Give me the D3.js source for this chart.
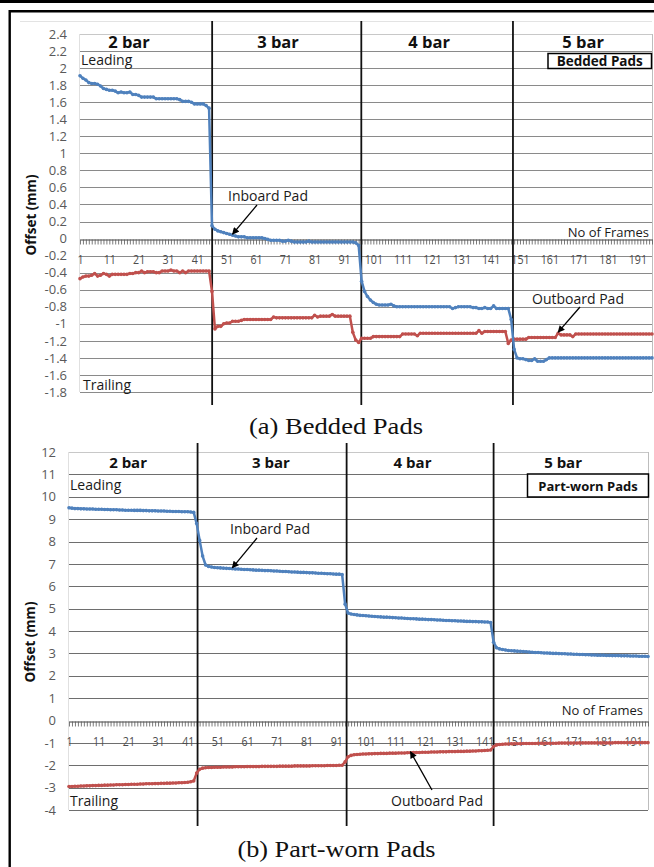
<!DOCTYPE html>
<html>
<head>
<meta charset="utf-8">
<script src="https://cdn.jsdelivr.net/npm/d3@7/dist/d3.min.js"></script>
<style>
  body { margin: 0; background: #fff; }
  svg { display: block; font-family: "Open Sans", "Liberation Sans", sans-serif; }
</style>
</head>
<body>
<svg id="fig" width="654" height="867"></svg>
<script>
// ---- data -------------------------------------------------------------
const frames = d3.range(1, 197);                 // frame numbers 1..196
const frameLabels = d3.range(1, 197, 10);        // 1, 11, ... 191
const stageNames = ["2 bar", "3 bar", "4 bar", "5 bar"];

const beddedTicks = [2.4, 2.2, 2, 1.8, 1.6, 1.4, 1.2, 1, 0.8, 0.6, 0.4, 0.2, 0,
  -0.2, -0.4, -0.6, -0.8, -1, -1.2, -1.4, -1.6, -1.8];
const wornTicks = [12, 11, 10, 9, 8, 7, 6, 5, 4, 3, 2, 1, 0, -1, -2, -3, -4];

// Bedded pads, offset (mm) per frame
const beddedInboard = [
  1.91, 1.88, 1.86, 1.83, 1.82, 1.82, 1.81, 1.79, 1.76, 1.75,
  1.74, 1.74, 1.73, 1.71, 1.72, 1.71, 1.71, 1.72, 1.69, 1.69,
  1.68, 1.66, 1.66, 1.66, 1.66, 1.66, 1.64, 1.64, 1.64, 1.64,
  1.64, 1.64, 1.64, 1.64, 1.63, 1.61, 1.61, 1.61, 1.60, 1.58,
  1.58, 1.58, 1.58, 1.56, 1.53, 0.15, 0.11, 0.09, 0.08, 0.07,
  0.06, 0.05, 0.04, 0.03, 0.02, 0.02, 0.02, 0.01, 0.01, 0.01,
  0.01, 0.01, 0.01, 0.00, -0.01, -0.02, -0.02, -0.02, -0.02, -0.03,
  -0.03, -0.02, -0.03, -0.04, -0.04, -0.04, -0.04, -0.04, -0.03, -0.04,
  -0.04, -0.04, -0.04, -0.04, -0.04, -0.04, -0.04, -0.04, -0.04, -0.04,
  -0.04, -0.04, -0.04, -0.04, -0.05, -0.08, -0.50, -0.62, -0.68, -0.72,
  -0.75, -0.77, -0.78, -0.78, -0.78, -0.78, -0.77, -0.79, -0.80, -0.80,
  -0.80, -0.80, -0.80, -0.80, -0.80, -0.80, -0.80, -0.80, -0.80, -0.80,
  -0.80, -0.80, -0.80, -0.80, -0.80, -0.80, -0.80, -0.82, -0.81, -0.80,
  -0.80, -0.80, -0.80, -0.80, -0.81, -0.81, -0.82, -0.82, -0.81, -0.82,
  -0.82, -0.79, -0.82, -0.82, -0.82, -0.82, -0.82, -0.95, -1.30, -1.40,
  -1.41, -1.41, -1.42, -1.43, -1.43, -1.41, -1.44, -1.44, -1.44, -1.42,
  -1.40, -1.40, -1.40, -1.40, -1.40, -1.40, -1.40, -1.40, -1.40, -1.40,
  -1.40, -1.40, -1.40, -1.40, -1.40, -1.40, -1.40, -1.40, -1.40, -1.40,
  -1.40, -1.40, -1.40, -1.40, -1.40, -1.40, -1.40, -1.40, -1.40, -1.40,
  -1.40, -1.40, -1.40, -1.40, -1.40, -1.40
];
const beddedOutboard = [
  -0.47, -0.45, -0.44, -0.44, -0.43, -0.41, -0.44, -0.43, -0.41, -0.42,
  -0.44, -0.42, -0.42, -0.42, -0.42, -0.42, -0.42, -0.41, -0.41, -0.40,
  -0.40, -0.38, -0.40, -0.39, -0.39, -0.39, -0.40, -0.40, -0.38, -0.38,
  -0.38, -0.37, -0.38, -0.38, -0.40, -0.38, -0.40, -0.38, -0.38, -0.38,
  -0.38, -0.38, -0.38, -0.38, -0.38, -0.62, -1.06, -1.03, -1.03, -1.00,
  -0.99, -0.99, -0.97, -0.97, -0.97, -0.96, -0.95, -0.95, -0.95, -0.95,
  -0.95, -0.95, -0.95, -0.95, -0.95, -0.95, -0.92, -0.93, -0.93, -0.93,
  -0.93, -0.93, -0.93, -0.93, -0.93, -0.93, -0.93, -0.93, -0.93, -0.93,
  -0.90, -0.92, -0.91, -0.91, -0.91, -0.91, -0.89, -0.91, -0.91, -0.91,
  -0.91, -0.91, -0.91, -1.10, -1.19, -1.22, -1.17, -1.17, -1.17, -1.17,
  -1.15, -1.15, -1.15, -1.15, -1.15, -1.15, -1.15, -1.15, -1.15, -1.15,
  -1.12, -1.12, -1.12, -1.12, -1.12, -1.14, -1.11, -1.11, -1.11, -1.11,
  -1.11, -1.11, -1.11, -1.11, -1.11, -1.11, -1.11, -1.11, -1.11, -1.11,
  -1.11, -1.11, -1.11, -1.11, -1.11, -1.11, -1.08, -1.11, -1.09, -1.09,
  -1.09, -1.09, -1.09, -1.09, -1.09, -1.09, -1.23, -1.19, -1.18, -1.18,
  -1.18, -1.18, -1.18, -1.16, -1.16, -1.16, -1.16, -1.16, -1.16, -1.16,
  -1.16, -1.16, -1.16, -1.11, -1.13, -1.13, -1.13, -1.13, -1.15, -1.12,
  -1.12, -1.12, -1.12, -1.12, -1.12, -1.12, -1.12, -1.12, -1.12, -1.12,
  -1.12, -1.12, -1.12, -1.12, -1.12, -1.12, -1.12, -1.12, -1.12, -1.12,
  -1.12, -1.12, -1.12, -1.12, -1.12, -1.12
];

// Part-worn pads, offset (mm) per frame
const wornInboard = [
  9.51, 9.49, 9.47, 9.47, 9.46, 9.46, 9.45, 9.45, 9.45, 9.44,
  9.44, 9.44, 9.43, 9.43, 9.42, 9.42, 9.42, 9.41, 9.41, 9.40,
  9.40, 9.40, 9.39, 9.39, 9.39, 9.38, 9.38, 9.37, 9.37, 9.37,
  9.36, 9.36, 9.36, 9.35, 9.35, 9.34, 9.34, 9.34, 9.33, 9.33,
  9.33, 9.32, 9.30, 8.80, 8.05, 7.35, 6.95, 6.88, 6.86, 6.84,
  6.83, 6.82, 6.81, 6.80, 6.79, 6.78, 6.77, 6.77, 6.76, 6.75,
  6.75, 6.74, 6.73, 6.72, 6.72, 6.71, 6.70, 6.70, 6.69, 6.68,
  6.68, 6.67, 6.66, 6.66, 6.65, 6.64, 6.64, 6.63, 6.62, 6.62,
  6.61, 6.60, 6.60, 6.59, 6.58, 6.58, 6.57, 6.56, 6.56, 6.55,
  6.54, 6.54, 6.52, 5.20, 4.80, 4.76, 4.74, 4.72, 4.70, 4.69,
  4.68, 4.67, 4.66, 4.65, 4.64, 4.63, 4.62, 4.62, 4.61, 4.60,
  4.59, 4.58, 4.58, 4.57, 4.56, 4.55, 4.55, 4.54, 4.53, 4.53,
  4.52, 4.51, 4.51, 4.50, 4.49, 4.49, 4.48, 4.47, 4.47, 4.46,
  4.46, 4.45, 4.45, 4.44, 4.43, 4.43, 4.42, 4.42, 4.41, 4.41,
  4.40, 4.40, 4.38, 3.50, 3.25, 3.20, 3.17, 3.15, 3.13, 3.12,
  3.11, 3.10, 3.09, 3.08, 3.07, 3.06, 3.05, 3.04, 3.04, 3.03,
  3.02, 3.02, 3.01, 3.00, 3.00, 2.99, 2.98, 2.98, 2.97, 2.97,
  2.96, 2.96, 2.95, 2.95, 2.94, 2.94, 2.93, 2.93, 2.92, 2.92,
  2.92, 2.91, 2.91, 2.90, 2.90, 2.90, 2.89, 2.89, 2.89, 2.88,
  2.88, 2.88, 2.87, 2.87, 2.87, 2.86
];
const wornOutboard = [
  -2.95, -2.95, -2.94, -2.94, -2.93, -2.93, -2.92, -2.92, -2.91, -2.91,
  -2.90, -2.90, -2.89, -2.89, -2.88, -2.88, -2.87, -2.87, -2.87, -2.86,
  -2.86, -2.85, -2.85, -2.85, -2.84, -2.84, -2.83, -2.83, -2.83, -2.82,
  -2.82, -2.81, -2.81, -2.80, -2.80, -2.79, -2.79, -2.78, -2.78, -2.77,
  -2.76, -2.74, -2.70, -2.35, -2.18, -2.13, -2.11, -2.10, -2.10, -2.09,
  -2.09, -2.09, -2.08, -2.08, -2.08, -2.08, -2.07, -2.07, -2.07, -2.07,
  -2.06, -2.06, -2.06, -2.06, -2.06, -2.05, -2.05, -2.05, -2.05, -2.05,
  -2.05, -2.04, -2.04, -2.04, -2.04, -2.04, -2.03, -2.03, -2.03, -2.03,
  -2.03, -2.03, -2.02, -2.02, -2.02, -2.02, -2.02, -2.01, -2.01, -2.01,
  -2.01, -2.00, -2.00, -1.85, -1.62, -1.56, -1.53, -1.52, -1.51, -1.50,
  -1.50, -1.49, -1.49, -1.48, -1.48, -1.47, -1.47, -1.47, -1.46, -1.46,
  -1.46, -1.45, -1.45, -1.45, -1.44, -1.44, -1.43, -1.43, -1.43, -1.42,
  -1.42, -1.42, -1.41, -1.41, -1.41, -1.40, -1.40, -1.40, -1.39, -1.39,
  -1.39, -1.38, -1.38, -1.38, -1.37, -1.37, -1.36, -1.36, -1.35, -1.35,
  -1.34, -1.33, -1.32, -1.16, -1.09, -1.07, -1.06, -1.05, -1.05, -1.04,
  -1.04, -1.04, -1.04, -1.03, -1.03, -1.03, -1.03, -1.03, -1.02, -1.02,
  -1.02, -1.02, -1.02, -1.02, -1.02, -1.01, -1.01, -1.01, -1.01, -1.01,
  -1.01, -1.01, -1.00, -1.00, -1.00, -1.00, -1.00, -1.00, -1.00, -1.00,
  -1.00, -1.00, -1.00, -1.00, -0.99, -0.99, -0.99, -0.99, -0.99, -0.99,
  -0.99, -0.99, -0.99, -0.99, -0.99, -0.99
];

// frames at which the supply pressure was stepped up
const beddedStageEdges = [46.05, 96.9, 148.6];
const wornStageEdges = [44.3, 94.5, 144];
// frame around which each pressure label is centred
const beddedStageLabelAt = [17.7, 68.5, 120, 172.5];
const wornStageLabelAt = [20.9, 69, 116.7, 167.4];

// ---- drawing ----------------------------------------------------------
const BLUE = "#4F81BD", RED = "#C0504D";
const SANS = "'Open Sans', 'Liberation Sans', sans-serif";
const SERIF = "'Liberation Serif', 'DejaVu Serif', serif";
const svg = d3.select("#fig");

const defs = svg.append("defs");
defs.append("marker")
  .attr("id", "arrowhead")
  .attr("viewBox", "0 0 10 10")
  .attr("refX", 9).attr("refY", 5)
  .attr("markerWidth", 8).attr("markerHeight", 7)
  .attr("markerUnits", "userSpaceOnUse")
  .attr("orient", "auto")
  .append("path").attr("d", "M0,0 L10,5 L0,10 z").attr("fill", "#000");

// outer figure frame
svg.append("rect").attr("x", 0).attr("y", 0).attr("width", 654).attr("height", 3).attr("fill", "#000");
svg.append("path").attr("d", "M9.7,867 V11.2 H654")
  .attr("fill", "none").attr("stroke", "#000").attr("stroke-width", 2.4);

function drawPanel(p) {
  const g = svg.append("g");
  const x = d3.scaleLinear().domain([1, frames.length]).range([p.left, p.right]);
  const y = d3.scaleLinear().domain(p.domain).range([p.bottom, p.top]);
  const fmt = v => String(+v.toFixed(1));

  // chart area top edge
  if (p.areaTop) {
    g.append("line").attr("x1", 20).attr("x2", p.right).attr("y1", p.areaTop).attr("y2", p.areaTop)
      .attr("stroke", "#e3e3e3").attr("stroke-width", 1);
  }

  // horizontal gridlines
  g.append("g").selectAll("line").data(p.ticks.filter(v => v !== 0)).join("line")
    .attr("x1", p.left).attr("x2", p.right)
    .attr("y1", d => Math.round(y(d)) + 0.5).attr("y2", d => Math.round(y(d)) + 0.5)
    .attr("stroke", (d, i) => i === 0 ? "#c8c8c8" : p.gridColor).attr("stroke-width", 1);

  // plot area edges
  g.append("line").attr("x1", p.right + 0.5).attr("x2", p.right + 0.5)
    .attr("y1", y(p.domain[1])).attr("y2", y(p.domain[0]))
    .attr("stroke", "#bdbdbd");
  g.append("line").attr("x1", p.left - 0.5).attr("x2", p.left - 0.5)
    .attr("y1", y(p.domain[1])).attr("y2", y(p.domain[0]))
    .attr("stroke", "#e0e0e0");

  // value labels
  g.append("g").selectAll("text").data(p.ticks).join("text")
    .attr("x", p.labelRight).attr("y", d => y(d)).attr("dy", "0.36em")
    .attr("text-anchor", "end").attr("font-size", p.tickFont).attr("fill", "#595959")
    .style("font-family", SANS)
    .text(fmt);

  // category axis at zero
  const axis = d3.axisBottom(x).tickValues(frames).tickSizeInner(5).tickSizeOuter(0)
    .tickPadding(p.xPad).tickFormat(d => frameLabels.includes(d) ? String(d) : "");
  const ax = g.append("g").attr("transform", `translate(0,${Math.round(y(0)) + 0.5})`).call(axis);
  ax.attr("font-family", null).attr("font-size", null);
  ax.select(".domain").attr("stroke", "#404040").attr("stroke-width", 1.2);
  ax.selectAll(".tick line").attr("stroke", "#595959").attr("stroke-width", 0.8);
  ax.selectAll(".tick text")
    .attr("font-size", 13).attr("fill", "#4d4d4d")
    .style("font-family", SANS)
    .attr("transform", "scale(0.82,1)");

  // pressure stage dividers
  g.append("g").selectAll("line").data(p.edges).join("line")
    .attr("x1", d => x(d)).attr("x2", d => x(d))
    .attr("y1", p.divTop).attr("y2", p.divBottom)
    .attr("stroke", "#111").attr("stroke-width", 1.8);

  // stage names
  g.append("g").selectAll("text").data(stageNames).join("text")
    .attr("x", (d, i) => x(p.stageAt[i])).attr("y", p.stageY)
    .attr("text-anchor", "middle").attr("font-weight", 700).attr("font-size", p.stageFont)
    .attr("fill", "#111").text(d => d);

  // series
  const line = d3.line().x((d, i) => x(frames[i])).y(d => y(d));
  [[p.outboard, RED], [p.inboard, BLUE]].forEach(([vals, col]) => {
    g.append("path").datum(vals).attr("d", line)
      .attr("fill", "none").attr("stroke", col).attr("stroke-width", 2.5)
      .attr("stroke-linejoin", "round");
    g.append("g").selectAll("circle").data(vals).join("circle")
      .attr("cx", (d, i) => x(frames[i])).attr("cy", d => y(d)).attr("r", 1.8)
      .attr("fill", col);
  });

  // side notes
  const note = (txt, xx, yy, anchor, size) => g.append("text")
    .attr("x", xx).attr("y", yy).attr("text-anchor", anchor)
    .attr("font-size", size).attr("fill", "#1a1a1a").text(txt);
  note("Leading", p.left + 1, p.leadingY, "start", 14);
  note("Trailing", p.left + p.trailDx, p.trailingY, "start", 14);
  note("No of Frames", p.framesX, p.framesY, "end", 13);

  // pad annotations with arrows
  p.notes.forEach(n => {
    const vals = n.series === "in" ? p.inboard : p.outboard;
    const tx = x(n.frame), ty = y(vals[n.frame - 1]);
    g.append("line").attr("x1", n.tailX).attr("y1", n.tailY).attr("x2", tx).attr("y2", ty - 1)
      .attr("stroke", "#000").attr("stroke-width", 1.3).attr("marker-end", "url(#arrowhead)");
    note(n.text, n.textX, n.textY, "middle", 14);
  });

  // pad condition badge
  const b = p.badge;
  g.append("rect").attr("x", b.x).attr("y", b.y).attr("width", b.w).attr("height", b.h)
    .attr("fill", "#fff").attr("stroke", "#000").attr("stroke-width", 1.5);
  g.append("text").attr("x", b.x + b.w / 2).attr("y", b.base).attr("text-anchor", "middle")
    .attr("font-weight", 700).attr("font-size", b.size).attr("fill", "#111").text(b.text);

  // value axis title
  g.append("text").attr("transform", `translate(${p.titleX},${p.titleY}) rotate(-90)`)
    .attr("text-anchor", "middle").attr("font-weight", 700).attr("font-size", 13.5)
    .attr("fill", "#111").text("Offset (mm)");

  // caption
  g.append("text").attr("x", p.capX).attr("y", p.capY).attr("text-anchor", "middle")
    .style("font-family", SERIF)
    .attr("font-size", 23).attr("textLength", p.capLen).attr("lengthAdjust", "spacingAndGlyphs")
    .attr("fill", "#111").text(p.caption);
}

drawPanel({
  left: 80, right: 652, top: 34, bottom: 392, domain: [-1.8, 2.4],
  ticks: beddedTicks, inboard: beddedInboard, outboard: beddedOutboard,
  edges: beddedStageEdges, stageAt: beddedStageLabelAt, stageY: 47.5, stageFont: 16.5,
  divTop: 21, divBottom: 405, areaTop: 21.5, gridColor: "#8a8a8a",
  labelRight: 67, tickFont: 13, xPad: 10,
  leadingY: 65, trailingY: 390, trailDx: 3, framesX: 649, framesY: 237,
  notes: [
    { series: "in", frame: 53, text: "Inboard Pad", textX: 268, textY: 201, tailX: 257, tailY: 205 },
    { series: "out", frame: 164, text: "Outboard Pad", textX: 578, textY: 304, tailX: 580, tailY: 307 }
  ],
  badge: { text: "Bedded Pads", x: 548, y: 53.5, w: 103.5, h: 15, base: 66.2, size: 13.5 },
  titleX: 36, titleY: 215,
  caption: "(a) Bedded Pads", capX: 336, capY: 434, capLen: 174
});

drawPanel({
  left: 69, right: 648, top: 452, bottom: 810, domain: [-4, 12],
  ticks: wornTicks, inboard: wornInboard, outboard: wornOutboard,
  edges: wornStageEdges, stageAt: wornStageLabelAt, stageY: 467.5, stageFont: 15,
  divTop: 443, divBottom: 826, areaTop: null, gridColor: "#6e6e6e",
  labelRight: 56, tickFont: 13, xPad: 10,
  leadingY: 490, trailingY: 806, trailDx: 1, framesX: 643, framesY: 715,
  notes: [
    { series: "in", frame: 56, text: "Inboard Pad", textX: 270, textY: 534, tailX: 257, tailY: 538 },
    { series: "out", frame: 116, text: "Outboard Pad", textX: 437, textY: 806, tailX: 432, tailY: 790 }
  ],
  badge: { text: "Part-worn Pads", x: 527.5, y: 474, w: 121, h: 23, base: 490.5, size: 13 },
  titleX: 35, titleY: 642,
  caption: "(b) Part-worn Pads", capX: 336.5, capY: 857, capLen: 198
});
</script>
</body>
</html>
